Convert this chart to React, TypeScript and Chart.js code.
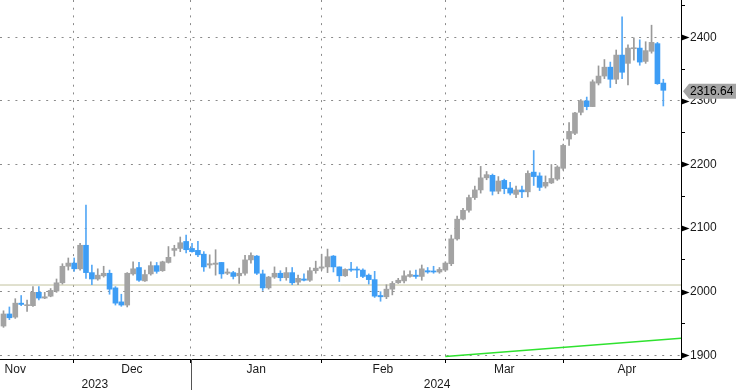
import React, { useEffect, useRef } from 'react';
import { Chart, registerables } from 'chart.js';

Chart.register(...registerables);

// ---------- data ----------
const dates = [
  '2023-11-14','2023-11-15','2023-11-16','2023-11-17','2023-11-20','2023-11-21','2023-11-22','2023-11-23','2023-11-24','2023-11-27',
  '2023-11-28','2023-11-29','2023-11-30','2023-12-01','2023-12-04','2023-12-05','2023-12-06','2023-12-07','2023-12-08','2023-12-11',
  '2023-12-12','2023-12-13','2023-12-14','2023-12-15','2023-12-18','2023-12-19','2023-12-20','2023-12-21','2023-12-22','2023-12-26',
  '2023-12-27','2023-12-28','2023-12-29','2024-01-02','2024-01-03','2024-01-04','2024-01-05','2024-01-08','2024-01-09','2024-01-10',
  '2024-01-11','2024-01-12','2024-01-15','2024-01-16','2024-01-17','2024-01-18','2024-01-19','2024-01-22','2024-01-23','2024-01-24',
  '2024-01-25','2024-01-26','2024-01-29','2024-01-30','2024-01-31','2024-02-01','2024-02-02','2024-02-05','2024-02-06','2024-02-07',
  '2024-02-08','2024-02-09','2024-02-12','2024-02-13','2024-02-14','2024-02-15','2024-02-16','2024-02-19','2024-02-20','2024-02-21',
  '2024-02-22','2024-02-23','2024-02-26','2024-02-27','2024-02-28','2024-02-29','2024-03-01','2024-03-04','2024-03-05','2024-03-06',
  '2024-03-07','2024-03-08','2024-03-11','2024-03-12','2024-03-13','2024-03-14','2024-03-15','2024-03-18','2024-03-19','2024-03-20',
  '2024-03-21','2024-03-22','2024-03-25','2024-03-26','2024-03-27','2024-03-28','2024-04-01','2024-04-02','2024-04-03','2024-04-04',
  '2024-04-05','2024-04-08','2024-04-09','2024-04-10','2024-04-11','2024-04-12','2024-04-15','2024-04-16','2024-04-17','2024-04-18',
  '2024-04-19','2024-04-22','2024-04-23',
];

const open = [
  1946,1965,1960,1982,1978,1978,1999,1990,1993,2001,
  2014,2040,2045,2036,2073,2030,2020,2025,2029,2006,
  1984,1979,2028,2038,2017,2028,2041,2033,2046,2065,
  2068,2079,2068,2065,2059,2042,2043,2046,2029,2030,
  2025,2029,2050,2056,2028,2006,2023,2029,2022,2030,
  2015,2020,2018,2033,2037,2039,2056,2039,2025,2035,
  2035,2034,2026,2019,1994,1992,2004,2014,2017,2024,
  2026,2024,2033,2032,2031,2034,2044,2083,2114,2128,
  2148,2160,2179,2183,2158,2175,2163,2153,2160,2157,
  2188,2182,2166,2171,2177,2194,2240,2249,2282,2300,
  2291,2328,2339,2353,2334,2372,2359,2382,2383,2362,
  2378,2390,2328,
];
const high = [
  1970,1976,1989,1994,1987,2008,2008,1999,2005,2020,
  2044,2053,2053,2076,2136,2042,2036,2040,2034,2008,
  1996,2030,2047,2046,2034,2047,2046,2048,2071,2073,
  2086,2089,2076,2079,2063,2058,2066,2046,2036,2032,
  2037,2057,2061,2057,2034,2024,2039,2033,2038,2038,
  2026,2028,2038,2048,2059,2067,2057,2039,2036,2046,
  2039,2036,2028,2032,2000,2011,2016,2021,2033,2033,
  2034,2042,2038,2040,2038,2047,2089,2119,2131,2152,
  2166,2197,2189,2185,2181,2177,2172,2166,2166,2190,
  2222,2187,2182,2200,2198,2232,2266,2282,2302,2306,
  2333,2355,2365,2361,2380,2432,2388,2399,2396,2393,
  2419,2392,2334,
];
const low = [
  1944,1956,1958,1978,1969,1977,1987,1989,1992,1999,
  2012,2034,2032,2034,2021,2011,2018,2023,1996,1979,
  1977,1976,2026,2016,2016,2026,2029,2032,2045,2056,
  2063,2061,2062,2055,2032,2037,2026,2021,2027,2020,
  2013,2026,2045,2027,2002,2004,2021,2017,2018,2011,
  2011,2017,2016,2029,2034,2030,2031,2016,2024,2032,
  2022,2022,2012,1991,1985,1989,1995,2013,2014,2023,
  2021,2018,2029,2029,2029,2032,2041,2081,2113,2125,
  2145,2155,2176,2152,2154,2154,2152,2148,2148,2149,
  2167,2159,2163,2170,2175,2191,2230,2247,2278,2286,
  2291,2325,2335,2321,2327,2335,2325,2364,2356,2359,
  2375,2326,2292,
];
const close = [
  1965,1959,1982,1980,1979,1999,1990,1992,2002,2014,
  2040,2045,2036,2073,2030,2020,2026,2029,2004,1982,
  1979,2029,2036,2018,2027,2041,2032,2047,2054,2068,
  2077,2066,2063,2058,2039,2044,2045,2028,2031,2024,
  2029,2050,2057,2029,2006,2023,2029,2022,2030,2014,
  2021,2018,2033,2037,2039,2055,2039,2025,2035,2034,
  2034,2024,2019,1993,1992,2004,2013,2018,2025,2027,
  2024,2036,2031,2031,2035,2045,2083,2114,2128,2148,
  2160,2179,2184,2158,2174,2162,2155,2160,2157,2186,
  2181,2164,2172,2178,2196,2230,2252,2281,2300,2291,
  2330,2339,2353,2334,2372,2345,2383,2383,2361,2379,
  2392,2327,2316.64,
];

// reference level (flat line) and rising trend line
const refLevel = 2010.5;
const trendX = [75, 115];
const trendY = [1898, 1927];

// axis ticks (positions in candle-index units)
const xMin = -0.594;
const xMax = 115.0;
const monthBounds = [11.8, 31.8, 54, 75, 95];
const monthLabels = ['Nov', 'Dec', 'Jan', 'Feb', 'Mar', 'Apr'];
const monthLabelPos = [2.0, 21.8, 42.9, 64.4, 85.0, 105.8];
const yearLabels = ['2023', '2024'];
const yearLabelPos = [15.5, 73.6];
const yearBoundary = 31.8;
const yMin = 1894.2;
const yMax = 2458.6;
const yTickValues = [1900, 1950, 2000, 2050, 2100, 2150, 2200, 2250, 2300, 2350, 2400, 2450];

// ---------- styles ----------
const W = 736;
const H = 391;
const FONT = '"Liberation Sans", Arial, sans-serif';
const GRID = '#8a8a8a';
const DASH = [2, 5.7];
const UP_BODY = '#a3a3a3';
const UP_WICK = '#999999';
const DN_BODY = '#3d9df5';
const DN_WICK = '#55a8f5';
const TEXT = '#1a1a1a';

const decorPlugin = {
  id: 'decor',
  afterDraw(chart: any) {
    const { ctx, chartArea, scales } = chart;
    const ys = scales.y;
    const xs = scales.x;
    ctx.save();
    // year separator below the axis
    const sx = Math.round(xs.getPixelForValue(yearBoundary)) + 0.5;
    ctx.strokeStyle = '#555';
    ctx.lineWidth = 1;
    ctx.beginPath();
    ctx.moveTo(sx, chartArea.bottom);
    ctx.lineTo(sx, chart.height - 1);
    ctx.stroke();
    // arrow markers at the major y ticks
    ctx.fillStyle = '#000';
    yTickValues.filter((v) => v % 100 === 0).forEach((v) => {
      const py = Math.round(ys.getPixelForValue(v)) + 0.5;
      ctx.beginPath();
      ctx.moveTo(chartArea.right, py - 3.2);
      ctx.lineTo(chartArea.right + 8.5, py);
      ctx.lineTo(chartArea.right, py + 3.2);
      ctx.closePath();
      ctx.fill();
    });
    // last price callout
    const last = close[close.length - 1];
    const py = ys.getPixelForValue(last) + 1;
    const tipX = chartArea.right + 2;
    const edgeX = chartArea.right + 8;
    ctx.fillStyle = '#a4a4a4';
    ctx.beginPath();
    ctx.moveTo(tipX, py);
    ctx.lineTo(edgeX, py - 7.5);
    ctx.lineTo(chart.width, py - 7.5);
    ctx.lineTo(chart.width, py + 7.5);
    ctx.lineTo(edgeX, py + 7.5);
    ctx.closePath();
    ctx.fill();
    ctx.fillStyle = '#000';
    ctx.font = `12px ${FONT}`;
    ctx.textBaseline = 'middle';
    ctx.textAlign = 'left';
    ctx.fillText(last.toFixed(2), chartArea.right + 9, py);
    ctx.restore();
  },
};

export default function App() {
  const ref = useRef<HTMLCanvasElement>(null);

  useEffect(() => {
    const canvas = ref.current;
    if (!canvas) return;
    const idx = close.map((_, i) => i);
    const isUp = (i: number) => close[i] >= open[i];
    const font = { family: FONT, size: 12 };

    const chart = new Chart(canvas, {
      type: 'bar',
      data: {
        labels: dates,
        datasets: [
          {
            type: 'bar',
            label: 'body',
            data: idx.map((i) => ({ x: i, y: [open[i], close[i]] })) as any,
            backgroundColor: idx.map((i) => (isUp(i) ? UP_BODY : DN_BODY)),
            borderWidth: 0,
            grouped: false,
            categoryPercentage: 1,
            barPercentage: 1,
            maxBarThickness: 5,
            minBarLength: 1,
            order: 1,
            xAxisID: 'x',
            yAxisID: 'y',
          } as any,
          {
            type: 'bar',
            label: 'wick',
            data: idx.map((i) => ({ x: i, y: [low[i], high[i]] })) as any,
            backgroundColor: idx.map((i) => (isUp(i) ? UP_WICK : DN_WICK)),
            borderWidth: 0,
            grouped: false,
            categoryPercentage: 1,
            barPercentage: 1,
            maxBarThickness: 1,
            minBarLength: 1,
            order: 2,
            xAxisID: 'x',
            yAxisID: 'y',
          } as any,
          {
            type: 'line',
            label: 'level',
            data: [{ x: xMin, y: refLevel }, { x: xMax, y: refLevel }] as any,
            borderColor: '#c2c29e',
            borderWidth: 1,
            pointRadius: 0,
            order: 6,
            xAxisID: 'x',
            yAxisID: 'y',
          } as any,
          {
            type: 'line',
            label: 'trend',
            data: trendX.map((x, k) => ({ x, y: trendY[k] })) as any,
            borderColor: '#2fe22f',
            borderWidth: 1.5,
            pointRadius: 0,
            order: 5,
            xAxisID: 'x',
            yAxisID: 'y',
          } as any,
        ],
      },
      options: {
        animation: false,
        responsive: false,
        devicePixelRatio: 1,
        events: [],
        layout: { padding: 0 },
        plugins: { legend: { display: false }, tooltip: { enabled: false } },
        scales: {
          x: {
            type: 'linear',
            position: 'bottom',
            weight: 0,
            min: xMin,
            max: xMax,
            offset: false,
            afterBuildTicks: (s: any) => {
              s.ticks = monthBounds.map((v) => ({ value: v }));
            },
            ticks: { display: false },
            grid: {
              offset: false,
              color: GRID,
              lineWidth: 1,
              drawTicks: true,
              tickLength: 4,
              tickColor: '#000',
              tickBorderDash: [],
            },
            border: { display: true, color: '#000', width: 1, dash: DASH },
            afterFit: (s: any) => {
              s.height = 4;
              s.paddingLeft = 0;
              s.paddingRight = 0;
            },
          },
          xm: {
            type: 'linear',
            position: 'bottom',
            weight: 1,
            min: xMin,
            max: xMax,
            offset: false,
            afterBuildTicks: (s: any) => {
              s.ticks = monthLabelPos.map((v) => ({ value: v }));
            },
            ticks: {
              autoSkip: false,
              maxRotation: 0,
              minRotation: 0,
              padding: -1,
              color: TEXT,
              font,
              callback: (_v: any, i: number) => monthLabels[i],
            },
            grid: { display: false, drawTicks: false, drawOnChartArea: false, offset: false },
            border: { display: false },
            afterFit: (s: any) => {
              s.height = 14;
              s.paddingLeft = 0;
              s.paddingRight = 0;
            },
          },
          xy: {
            type: 'linear',
            position: 'bottom',
            weight: 2,
            min: xMin,
            max: xMax,
            offset: false,
            afterBuildTicks: (s: any) => {
              s.ticks = yearLabelPos.map((v) => ({ value: v }));
            },
            ticks: {
              autoSkip: false,
              maxRotation: 0,
              minRotation: 0,
              padding: 0,
              color: TEXT,
              font,
              callback: (_v: any, i: number) => yearLabels[i],
            },
            grid: { display: false, drawTicks: false, drawOnChartArea: false, offset: false },
            border: { display: false },
            afterFit: (s: any) => {
              s.height = 14;
              s.paddingLeft = 0;
              s.paddingRight = 0;
            },
          },
          y: {
            type: 'linear',
            position: 'right',
            min: yMin,
            max: yMax,
            beginAtZero: false,
            afterBuildTicks: (s: any) => {
              s.ticks = yTickValues.map((v) => ({ value: v }));
            },
            ticks: {
              autoSkip: false,
              padding: 5,
              color: TEXT,
              font,
              callback: (v: any) => (Number(v) % 100 === 0 ? String(v) : ''),
            },
            grid: {
              color: (c: any) => (c.tick && c.tick.value % 100 === 0 ? GRID : 'rgba(0,0,0,0)'),
              lineWidth: 1,
              drawTicks: true,
              tickLength: 4,
              tickColor: '#000',
              tickBorderDash: [],
            },
            border: { display: true, color: '#000', width: 1, dash: DASH },
            afterFit: (s: any) => {
              s.width = 55;
              s.paddingTop = 0;
              s.paddingBottom = 0;
            },
          },
        },
      } as any,
      plugins: [decorPlugin],
    });

    return () => chart.destroy();
  }, []);

  return (
    <div style={{ position: 'absolute', left: 0, top: 0, width: W, height: H, background: '#fff' }}>
      <canvas ref={ref} width={W} height={H} style={{ display: 'block', width: W, height: H }} />
    </div>
  );
}
